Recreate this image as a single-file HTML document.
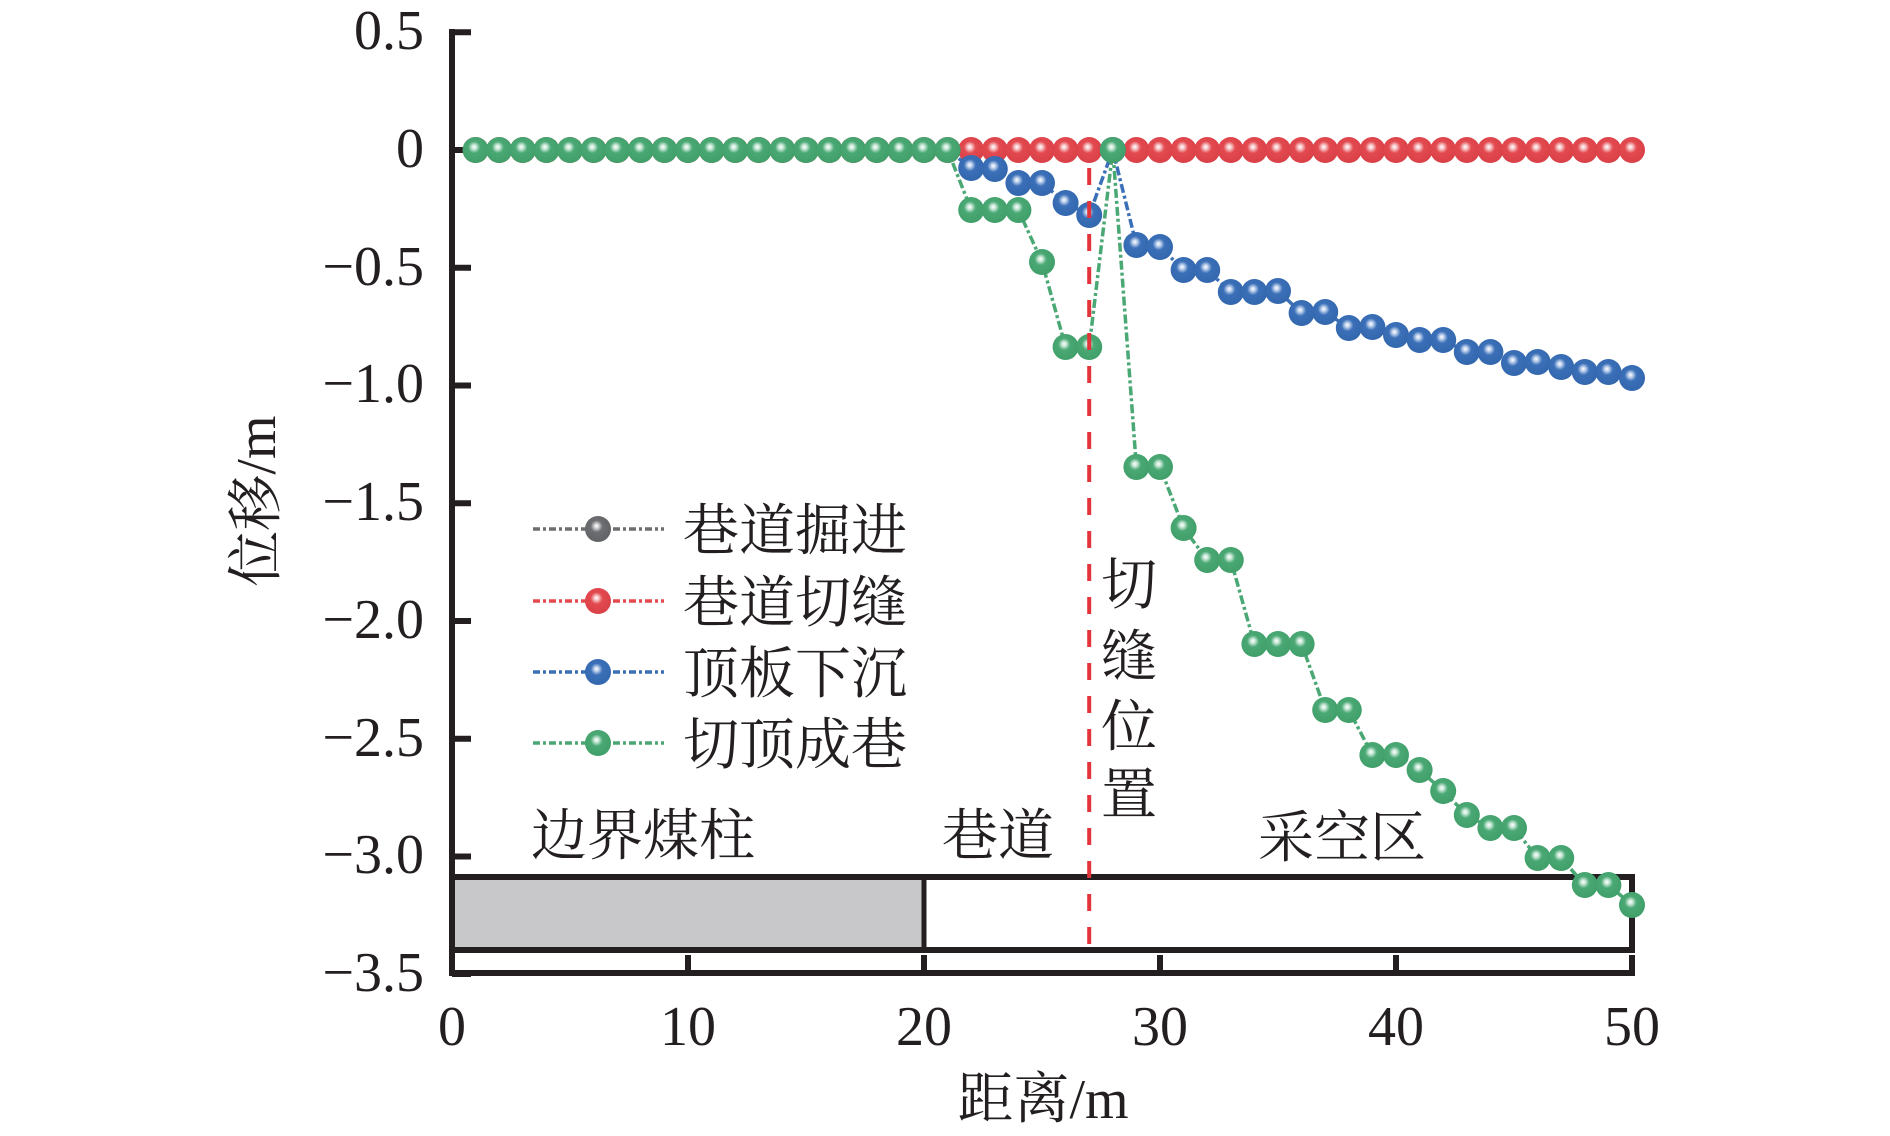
<!DOCTYPE html>
<html><head><meta charset="utf-8"><style>
html,body{margin:0;padding:0;background:#fff;}
svg{display:block;}
text{font-family:"Liberation Serif","Noto Serif CJK SC",serif;fill:#231f20;}
</style></head><body>
<svg width="1890" height="1136" viewBox="0 0 1890 1136" xmlns="http://www.w3.org/2000/svg">
<defs>
<radialGradient id="gR" cx="0.46" cy="0.42" r="0.6" fx="0.44" fy="0.38">
<stop offset="0" stop-color="#ffffff"/><stop offset="0.14" stop-color="#f6c9cb"/><stop offset="0.38" stop-color="#e34a50"/><stop offset="1" stop-color="#d93f46"/></radialGradient>
<radialGradient id="gB" cx="0.46" cy="0.42" r="0.6" fx="0.44" fy="0.38">
<stop offset="0" stop-color="#ffffff"/><stop offset="0.14" stop-color="#c3d4ee"/><stop offset="0.38" stop-color="#3b70b8"/><stop offset="1" stop-color="#3266ad"/></radialGradient>
<radialGradient id="gG" cx="0.46" cy="0.42" r="0.6" fx="0.44" fy="0.38">
<stop offset="0" stop-color="#ffffff"/><stop offset="0.14" stop-color="#cdeadb"/><stop offset="0.38" stop-color="#4aa874"/><stop offset="1" stop-color="#409e69"/></radialGradient>
<radialGradient id="gK" cx="0.46" cy="0.42" r="0.6" fx="0.44" fy="0.38">
<stop offset="0" stop-color="#ffffff"/><stop offset="0.14" stop-color="#d5d5d7"/><stop offset="0.38" stop-color="#6d6e71"/><stop offset="1" stop-color="#606164"/></radialGradient>
<circle id="mR" r="13" fill="url(#gR)"/>
<circle id="mB" r="13" fill="url(#gB)"/>
<circle id="mG" r="13" fill="url(#gG)"/>
<circle id="mK" r="13" fill="url(#gK)"/>
</defs>

<!-- bottom rectangle -->
<rect x="452" y="877" width="472" height="73" fill="#c8c8ca"/>
<rect x="452" y="877" width="1180" height="73" fill="none" stroke="#231f20" stroke-width="6"/>
<line x1="924" y1="877" x2="924" y2="950" stroke="#231f20" stroke-width="5"/>

<!-- axes -->
<g stroke="#231f20" stroke-width="6" fill="none">
<line x1="452" y1="29" x2="452" y2="976"/>
<line x1="449" y1="973" x2="1635" y2="973"/>
<line x1="452" y1="32.25" x2="471" y2="32.25"/>
<line x1="452" y1="150" x2="471" y2="150"/>
<line x1="452" y1="267.75" x2="471" y2="267.75"/>
<line x1="452" y1="385.5" x2="471" y2="385.5"/>
<line x1="452" y1="503.25" x2="471" y2="503.25"/>
<line x1="452" y1="621" x2="471" y2="621"/>
<line x1="452" y1="738.75" x2="471" y2="738.75"/>
<line x1="452" y1="856.5" x2="471" y2="856.5"/>
<line x1="452" y1="974" x2="471" y2="974"/>
<line x1="688" y1="955" x2="688" y2="973"/>
<line x1="924" y1="955" x2="924" y2="973"/>
<line x1="1160" y1="955" x2="1160" y2="973"/>
<line x1="1396" y1="955" x2="1396" y2="973"/>
<line x1="1632" y1="955" x2="1632" y2="973"/>
</g>

<!-- y tick labels -->
<g font-size="56" text-anchor="end">
<text x="424" y="49">0.5</text>
<text x="424" y="167">0</text>
<text x="424" y="285">−0.5</text>
<text x="424" y="402">−1.0</text>
<text x="424" y="520">−1.5</text>
<text x="424" y="638">−2.0</text>
<text x="424" y="756">−2.5</text>
<text x="424" y="873">−3.0</text>
<text x="424" y="991">−3.5</text>
</g>
<!-- x tick labels -->
<g font-size="56" text-anchor="middle">
<text x="452" y="1045">0</text>
<text x="688" y="1045">10</text>
<text x="924" y="1045">20</text>
<text x="1160" y="1045">30</text>
<text x="1396" y="1045">40</text>
<text x="1632" y="1045">50</text>
</g>

<!-- axis titles -->
<text font-size="56" text-anchor="middle" transform="translate(275,501) rotate(-90)">位移/m</text>
<text font-size="56" text-anchor="middle" x="1043" y="1118">距离/m</text>

<!-- region labels -->
<g font-size="56">
<text x="531" y="855">边界煤柱</text>
<text x="942" y="855">巷道</text>
<text x="1258" y="857">采空区</text>
<text x="1101" y="604">切</text>
<text x="1101" y="676">缝</text>
<text x="1101" y="746">位</text>
<text x="1101" y="814">置</text>
</g>

<!-- series lines -->
<g fill="none" stroke-width="3.5" stroke-dasharray="9 3 3 3">
<polyline stroke="#6d6e71" points="475.6,150 1632,150"/>
<polyline stroke="#e34a50" points="475.6,150 1632,150"/>
</g>

<!-- gray markers (hidden beneath) -->
<!-- red markers -->
<g>
<use href="#mR" x="475.6" y="150"/><use href="#mR" x="499.2" y="150"/><use href="#mR" x="522.8" y="150"/><use href="#mR" x="546.4" y="150"/><use href="#mR" x="570" y="150"/><use href="#mR" x="593.6" y="150"/><use href="#mR" x="617.2" y="150"/><use href="#mR" x="640.8" y="150"/><use href="#mR" x="664.4" y="150"/><use href="#mR" x="688" y="150"/>
<use href="#mR" x="711.6" y="150"/><use href="#mR" x="735.2" y="150"/><use href="#mR" x="758.8" y="150"/><use href="#mR" x="782.4" y="150"/><use href="#mR" x="806" y="150"/><use href="#mR" x="829.6" y="150"/><use href="#mR" x="853.2" y="150"/><use href="#mR" x="876.8" y="150"/><use href="#mR" x="900.4" y="150"/><use href="#mR" x="924" y="150"/>
<use href="#mR" x="947.6" y="150"/><use href="#mR" x="971.2" y="150"/><use href="#mR" x="994.8" y="150"/><use href="#mR" x="1018.4" y="150"/><use href="#mR" x="1042" y="150"/><use href="#mR" x="1065.6" y="150"/><use href="#mR" x="1089.2" y="150"/><use href="#mR" x="1112.8" y="150"/><use href="#mR" x="1136.4" y="150"/><use href="#mR" x="1160" y="150"/>
<use href="#mR" x="1183.6" y="150"/><use href="#mR" x="1207.2" y="150"/><use href="#mR" x="1230.8" y="150"/><use href="#mR" x="1254.4" y="150"/><use href="#mR" x="1278" y="150"/><use href="#mR" x="1301.6" y="150"/><use href="#mR" x="1325.2" y="150"/><use href="#mR" x="1348.8" y="150"/><use href="#mR" x="1372.4" y="150"/><use href="#mR" x="1396" y="150"/>
<use href="#mR" x="1419.6" y="150"/><use href="#mR" x="1443.2" y="150"/><use href="#mR" x="1466.8" y="150"/><use href="#mR" x="1490.4" y="150"/><use href="#mR" x="1514" y="150"/><use href="#mR" x="1537.6" y="150"/><use href="#mR" x="1561.2" y="150"/><use href="#mR" x="1584.8" y="150"/><use href="#mR" x="1608.4" y="150"/><use href="#mR" x="1632" y="150"/>
</g>

<!-- blue -->
<polyline fill="none" stroke="#3b70b8" stroke-width="3.5" stroke-dasharray="9 3 3 3" points="475.6,150 947.6,150 971.2,168 994.8,169 1018.4,183 1042,183 1065.6,203 1089.2,215 1112.8,150 1136.4,245 1160,247 1183.6,270 1207.2,270 1230.8,292 1254.4,292 1278,291 1301.6,313 1325.2,312 1348.8,328 1372.4,327 1396,335 1419.6,340 1443.2,340 1466.8,352 1490.4,352 1514,363 1537.6,362 1561.2,367 1584.8,372 1608.4,372 1632,378"/>
<g>
<use href="#mB" x="971.2" y="168"/><use href="#mB" x="994.8" y="169"/><use href="#mB" x="1018.4" y="183"/><use href="#mB" x="1042" y="183"/><use href="#mB" x="1065.6" y="203"/><use href="#mB" x="1089.2" y="215"/><use href="#mB" x="1112.8" y="150"/><use href="#mB" x="1136.4" y="245"/><use href="#mB" x="1160" y="247"/>
<use href="#mB" x="1183.6" y="270"/><use href="#mB" x="1207.2" y="270"/><use href="#mB" x="1230.8" y="292"/><use href="#mB" x="1254.4" y="292"/><use href="#mB" x="1278" y="291"/><use href="#mB" x="1301.6" y="313"/><use href="#mB" x="1325.2" y="312"/><use href="#mB" x="1348.8" y="328"/><use href="#mB" x="1372.4" y="327"/><use href="#mB" x="1396" y="335"/>
<use href="#mB" x="1419.6" y="340"/><use href="#mB" x="1443.2" y="340"/><use href="#mB" x="1466.8" y="352"/><use href="#mB" x="1490.4" y="352"/><use href="#mB" x="1514" y="363"/><use href="#mB" x="1537.6" y="362"/><use href="#mB" x="1561.2" y="367"/><use href="#mB" x="1584.8" y="372"/><use href="#mB" x="1608.4" y="372"/><use href="#mB" x="1632" y="378"/>
</g>

<!-- green -->
<polyline fill="none" stroke="#4aa874" stroke-width="3.5" stroke-dasharray="9 3 3 3" points="475.6,150 947.6,150 971.2,210 994.8,210 1018.4,210 1042,262 1065.6,347 1089.2,347 1112.8,150 1136.4,467 1160,467 1183.6,528 1207.2,560 1230.8,560 1254.4,644 1278,644 1301.6,644 1325.2,710 1348.8,710 1372.4,755 1396,755 1419.6,770 1443.2,791 1466.8,815 1490.4,828 1514,828 1537.6,858 1561.2,858 1584.8,885 1608.4,885 1632,905"/>
<g>
<use href="#mG" x="475.6" y="150"/><use href="#mG" x="499.2" y="150"/><use href="#mG" x="522.8" y="150"/><use href="#mG" x="546.4" y="150"/><use href="#mG" x="570" y="150"/><use href="#mG" x="593.6" y="150"/><use href="#mG" x="617.2" y="150"/><use href="#mG" x="640.8" y="150"/><use href="#mG" x="664.4" y="150"/><use href="#mG" x="688" y="150"/>
<use href="#mG" x="711.6" y="150"/><use href="#mG" x="735.2" y="150"/><use href="#mG" x="758.8" y="150"/><use href="#mG" x="782.4" y="150"/><use href="#mG" x="806" y="150"/><use href="#mG" x="829.6" y="150"/><use href="#mG" x="853.2" y="150"/><use href="#mG" x="876.8" y="150"/><use href="#mG" x="900.4" y="150"/><use href="#mG" x="924" y="150"/>
<use href="#mG" x="947.6" y="150"/><use href="#mG" x="971.2" y="210"/><use href="#mG" x="994.8" y="210"/><use href="#mG" x="1018.4" y="210"/><use href="#mG" x="1042" y="262"/><use href="#mG" x="1065.6" y="347"/><use href="#mG" x="1089.2" y="347"/><use href="#mG" x="1112.8" y="150"/><use href="#mG" x="1136.4" y="467"/><use href="#mG" x="1160" y="467"/>
<use href="#mG" x="1183.6" y="528"/><use href="#mG" x="1207.2" y="560"/><use href="#mG" x="1230.8" y="560"/><use href="#mG" x="1254.4" y="644"/><use href="#mG" x="1278" y="644"/><use href="#mG" x="1301.6" y="644"/><use href="#mG" x="1325.2" y="710"/><use href="#mG" x="1348.8" y="710"/><use href="#mG" x="1372.4" y="755"/><use href="#mG" x="1396" y="755"/>
<use href="#mG" x="1419.6" y="770"/><use href="#mG" x="1443.2" y="791"/><use href="#mG" x="1466.8" y="815"/><use href="#mG" x="1490.4" y="828"/><use href="#mG" x="1514" y="828"/><use href="#mG" x="1537.6" y="858"/><use href="#mG" x="1561.2" y="858"/><use href="#mG" x="1584.8" y="885"/><use href="#mG" x="1608.4" y="885"/><use href="#mG" x="1632" y="905"/>
</g>

<!-- red dashed cut position line -->
<line x1="1089.2" y1="168" x2="1089.2" y2="950" stroke="#e3343c" stroke-width="4" stroke-dasharray="17 16"/>

<!-- legend -->
<g fill="none" stroke-width="3.5" stroke-dasharray="7 3 3 3">
<line x1="533" y1="529" x2="664" y2="529" stroke="#6d6e71"/>
<line x1="533" y1="601" x2="664" y2="601" stroke="#e34a50"/>
<line x1="533" y1="672" x2="664" y2="672" stroke="#3b70b8"/>
<line x1="533" y1="743" x2="664" y2="743" stroke="#4aa874"/>
</g>
<use href="#mK" x="598" y="529"/>
<use href="#mR" x="598" y="601"/>
<use href="#mB" x="598" y="672"/>
<use href="#mG" x="598" y="743"/>
<g font-size="56">
<text x="683" y="550">巷道掘进</text>
<text x="683" y="622">巷道切缝</text>
<text x="683" y="693">顶板下沉</text>
<text x="683" y="764">切顶成巷</text>
</g>
</svg>
</body></html>
